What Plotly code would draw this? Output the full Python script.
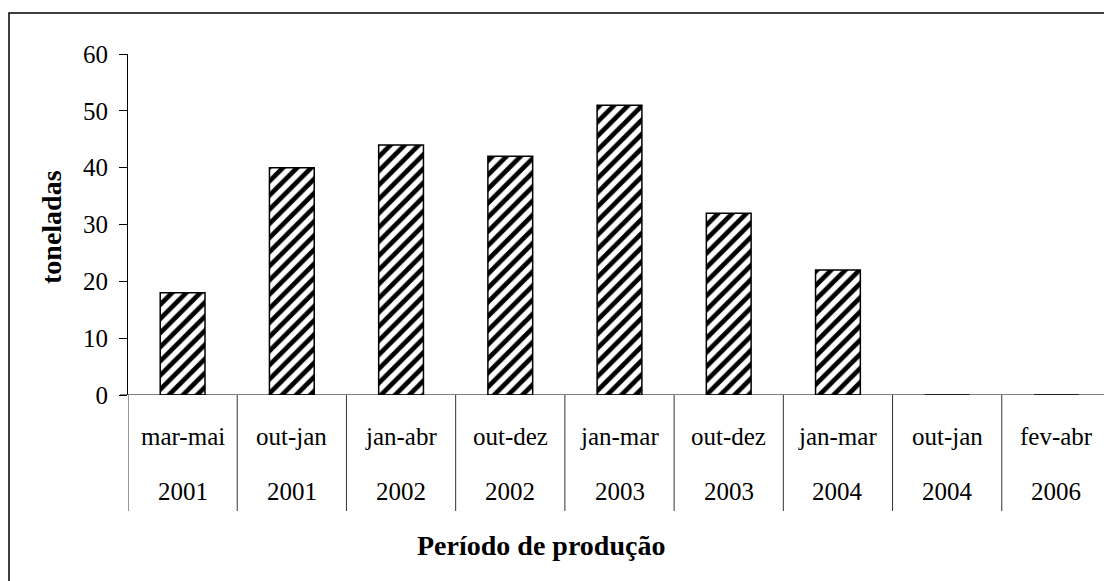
import plotly.graph_objects as go

periods = ["mar-mai", "out-jan", "jan-abr", "out-dez", "jan-mar", "out-dez", "jan-mar", "out-jan", "fev-abr"]
years = ["2001", "2001", "2002", "2002", "2003", "2003", "2004", "2004", "2006"]
values = [18, 40, 44, 42, 51, 32, 22, 0, 0]
y_ticks = [0, 10, 20, 30, 40, 50, 60]

# page body has an 8px margin, so the figure is drawn 8px smaller and all
# pixel positions below are page positions minus 8
OFF = 8
W, H = 1112 - OFF, 581 - OFF
L, R, T, B = 128 - OFF, 1111 - OFF, 54 - OFF, 395 - OFF  # plot area in figure pixels

def px(xp):
    return (xp - OFF - L) / (R - L)

def py(yp):
    return (B - (yp - OFF)) / (B - T)

FONT = "Liberation Serif"
TICK = 25
n = len(values)
xs = list(range(n))

fig = go.Figure()
fig.add_trace(go.Bar(
    x=xs, y=values, width=0.41,
    marker=dict(color="white", line=dict(color="black", width=1.5),
                pattern=dict(shape="/", fgcolor="black", bgcolor="white", fgopacity=1,
                             size=10, solidity=0.47)),
    hoverinfo="skip",
))

annotations = []
for i in xs:
    annotations.append(dict(x=i, y=py(437), xref="x", yref="paper", text=periods[i], showarrow=False,
                            font=dict(family=FONT, size=TICK, color="black"), xanchor="center", yanchor="middle"))
    annotations.append(dict(x=i, y=py(491), xref="x", yref="paper", text=years[i], showarrow=False,
                            font=dict(family=FONT, size=TICK, color="black"), xanchor="center", yanchor="middle"))
annotations.append(dict(x=px(541), y=py(545), xref="paper", yref="paper", text="<b>Período de produção</b>",
                        showarrow=False, font=dict(family=FONT, size=28, color="black"),
                        xanchor="center", yanchor="middle"))
annotations.append(dict(x=px(51), y=py(227), xref="paper", yref="paper", text="<b>toneladas</b>", textangle=-90,
                        showarrow=False, font=dict(family=FONT, size=28, color="black"),
                        xanchor="center", yanchor="middle"))

shapes = []
for i in range(n + 1):
    shapes.append(dict(type="line", xref="x", yref="paper", x0=i - 0.5, x1=i - 0.5, y0=0, y1=py(511),
                       line=dict(color="#333333", width=1)))
shapes.append(dict(type="line", xref="paper", yref="y", x0=px(120), x1=1, y0=0, y1=0,
                   line=dict(color="black", width=1.2)))
shapes.append(dict(type="rect", xref="paper", yref="paper", x0=px(9), x1=px(1130), y0=py(13), y1=py(600),
                   line=dict(color="black", width=1.5)))

fig.update_layout(
    width=W, height=H,
    margin=dict(l=L, r=W - R, t=T, b=H - B, pad=0, autoexpand=False),
    paper_bgcolor="white", plot_bgcolor="white",
    showlegend=False,
    xaxis=dict(range=[-0.5, n - 0.5], showticklabels=False, showline=False, showgrid=False,
               zeroline=False, ticks=""),
    yaxis=dict(range=[0, 60], tickvals=y_ticks, ticks="outside", ticklen=8, tickcolor="black",
               showline=True, linecolor="black", linewidth=1.2, showgrid=False, zeroline=False,
               tickfont=dict(family=FONT, size=TICK, color="black"), ticklabelstandoff=6),
    annotations=annotations,
    shapes=shapes,
)

fig.write_html("out.html")
